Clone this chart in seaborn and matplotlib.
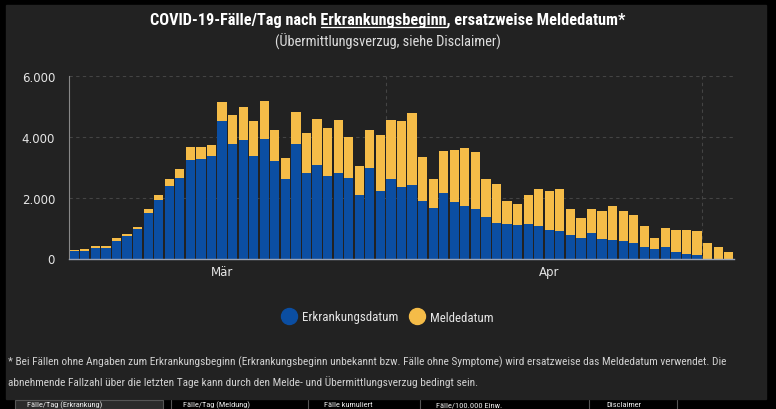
import pandas as pd
import matplotlib.pyplot as plt
from matplotlib import font_manager
from matplotlib.lines import Line2D
from matplotlib.patches import Rectangle
import seaborn as sns

# --- Daten ---
datum = pd.date_range("2020-02-16", "2020-04-18", freq="D")

erkrankungsdatum = [
    241, 241, 340, 340, 570, 734, 965, 1490, 1918, 2380, 2647, 3245, 3280, 3385,
    4535, 3780, 3905, 3385, 3945, 3222, 2627, 3785, 2825, 3090, 2730, 2825, 2660,
    2097, 2990, 2230, 2627, 2362, 2428, 1898, 1667, 2163, 1865, 1733, 1633, 1368,
    1175, 1142, 1109, 1142, 1076, 944, 911, 778, 679, 844, 646, 613, 580, 513,
    381, 315, 381, 215, 155, 127, 0, 0, 0,
]
meldedatum = [
    33, 66, 70, 70, 103, 71, 75, 130, 172, 228, 295, 425, 400, 360,
    635, 960, 1090, 1135, 1235, 1003, 668, 1040, 1297, 1495, 1555, 1720, 1330,
    963, 1230, 1825, 1923, 2156, 2350, 1429, 938, 1362, 1699, 1892, 1865, 1237,
    1285, 756, 690, 955, 1219, 1285, 1384, 855, 656, 789, 921, 1120, 987, 922,
    695, 358, 629, 729, 789, 778, 519, 387, 221,
]

monate = ["2020-03-01", "2020-04-01"]
monats_labels = ["Mär", "Apr"]
raster_daten = ["2020-03-17", "2020-04-16"]
y_ticks = [0, 2000, 4000, 6000]
y_labels = ["0", "2.000", "4.000", "6.000"]

titel = "COVID-19-Fälle/Tag nach Erkrankungsbeginn, ersatzweise Meldedatum*"
titel_vor = "COVID-19-Fälle/Tag nach "
titel_unterstrichen = "Erkrankungsbeginn"
untertitel = "(Übermittlungsverzug, siehe Disclaimer)"
fussnote = [
    "* Bei Fällen ohne Angaben zum Erkrankungsbeginn (Erkrankungsbeginn unbekannt bzw. "
    "Fälle ohne Symptome) wird ersatzweise das Meldedatum verwendet. Die",
    "abnehmende Fallzahl über die letzten Tage kann durch den Melde- und "
    "Übermittlungsverzug bedingt sein.",
]
tabs = ["Fälle/Tag (Erkrankung)", "Fälle/Tag (Meldung)", "Fälle kumuliert",
        "Fälle/100.000 Einw.", "Disclaimer"]

df = pd.DataFrame({
    "datum": datum.strftime("%Y-%m-%d"),
    "Erkrankungsdatum": erkrankungsdatum,
    "Meldedatum": meldedatum,
})
df["gesamt"] = df["Erkrankungsdatum"] + df["Meldedatum"]

# --- Stil ---
BLAU = "#0b4ea2"
GELB = "#f5bc48"
PANEL = "#222222"
W, H = 776, 410

sns.set_theme(style="dark")

# schmale Schrift suchen, sonst DejaVu Sans (condensed, falls vorhanden)
vorhanden = {f.name for f in font_manager.fontManager.ttflist}
schmal = None
for kandidat in ["Liberation Sans Narrow", "Roboto Condensed", "Open Sans Condensed",
                 "Noto Sans Condensed", "DejaVu Sans Condensed"]:
    if kandidat in vorhanden:
        schmal = kandidat
        break
if schmal is None:
    plt.rcParams["font.family"] = ["DejaVu Sans"]
    plt.rcParams["font.stretch"] = "condensed"
else:
    plt.rcParams["font.family"] = [schmal, "DejaVu Sans"]

fig = plt.figure(figsize=(W / 100, H / 100), dpi=100)
fig.patch.set_facecolor("black")
r = fig.canvas.get_renderer()


def fx(px):
    return px / W


def fy(py):
    return 1 - py / H


def breite(text, size, **kw):
    tmp = fig.text(0, 0, text, fontsize=size, **kw)
    w = tmp.get_window_extent(r).width
    tmp.remove()
    return w


def passend(text, ziel_px, **kw):
    return 10 * ziel_px / breite(text, 10, **kw)


# dunkles Panel
fig.add_artist(Rectangle((fx(6), fy(400)), fx(760), (400 - 6) / H,
                         transform=fig.transFigure, color=PANEL, zorder=0))

ax = fig.add_axes([fx(69), fy(259.5), fx(734 - 69), (259.5 - 77.3) / H])
ax.set_facecolor(PANEL)

# gestapelte Balken: gesamt (gelb) dahinter, Erkrankungsdatum (blau) davor
sns.barplot(data=df, x="datum", y="gesamt", color=GELB, saturation=1,
            width=0.87, errorbar=None, linewidth=0, ax=ax, zorder=3)
sns.barplot(data=df, x="datum", y="Erkrankungsdatum", color=BLAU, saturation=1,
            width=0.87, errorbar=None, linewidth=0, ax=ax, zorder=4)

ax.set_ylim(0, 6000)
ax.set_xlim(-0.5, len(df) - 0.5)
ax.set_xlabel("")
ax.set_ylabel("")

kat = list(df["datum"])
ax.set_xticks([kat.index(m) for m in monate])
ax.set_xticklabels(monats_labels, color="#e6e6e6", fontsize=8.5,
                   family="DejaVu Sans", stretch="normal")
ax.set_xticks([kat.index(rd) - 0.5 for rd in raster_daten], minor=True)
ax.tick_params(axis="x", which="major", length=0, pad=5)
ax.tick_params(axis="x", which="minor", length=4, color="#777777", width=0.8)
ax.xaxis.grid(True, which="minor", color="#444444", linestyle=(0, (3, 3)),
              linewidth=0.8)
ax.xaxis.grid(False, which="major")

ax.set_yticks(y_ticks)
ax.set_yticklabels(y_labels, color="#e6e6e6", fontsize=8.5,
                   family="DejaVu Sans", stretch="normal")
ax.tick_params(axis="y", length=6, color="#777777", width=0.8, pad=4)
ax.yaxis.grid(True, color="#444444", linestyle=(0, (3, 3)), linewidth=0.8)
ax.set_axisbelow(True)

for s in ["top", "right"]:
    ax.spines[s].set_visible(False)
ax.spines["left"].set_color("#888888")
ax.spines["left"].set_linewidth(0.8)
ax.spines["bottom"].set_color("#9aa3b5")
ax.spines["bottom"].set_linewidth(1.0)
ax.spines["bottom"].set_zorder(5)

# Titel mit unterstrichenem Wort
ts = passend(titel, 472, fontweight="bold")
t = fig.text(0.5, fy(20), titel, ha="center", va="center", color="white",
             fontsize=ts, fontweight="bold")
us = passend(untertitel, 224)
fig.text(0.5, fy(42), untertitel, ha="center", va="center", color="#dddddd",
         fontsize=us)

bb = t.get_window_extent(r)
w_vor = breite(titel_vor, ts, fontweight="bold")
w_u = breite(titel_unterstrichen, ts, fontweight="bold")
x0 = (bb.x0 + w_vor) / fig.bbox.width
x1 = (bb.x0 + w_vor + w_u) / fig.bbox.width
fig.add_artist(Line2D([x0, x1], [fy(28), fy(28)], transform=fig.transFigure,
                      color="white", linewidth=0.9))

# Legende
ls = passend("Erkrankungsdatum", 95)
handles = [
    Line2D([], [], marker="o", linestyle="", markersize=11.5,
           markerfacecolor=BLAU, markeredgecolor=BLAU, label="Erkrankungsdatum"),
    Line2D([], [], marker="o", linestyle="", markersize=11.5,
           markerfacecolor=GELB, markeredgecolor=GELB, label="Meldedatum"),
]
fig.legend(handles=handles, loc="center", bbox_to_anchor=(fx(388), fy(318)),
           ncol=2, frameon=False, fontsize=ls, labelcolor="#e6e6e6",
           handletextpad=0.5, columnspacing=1.0, handlelength=1.0)

# Fußnote
fs = passend(fussnote[0], 720)
for i, zeile in enumerate(fussnote):
    fig.text(fx(8), fy(362 + 20 * i), zeile, ha="left", va="center",
             color="#d0d0d0", fontsize=fs)

# Reiter unten
fig.add_artist(Rectangle((fx(15), 0), fx(148), fy(401), transform=fig.transFigure,
                         facecolor="#2b2b2b", edgecolor="#555555", linewidth=0.8,
                         zorder=1))
for xs in [171, 308, 420, 589, 677]:
    fig.add_artist(Line2D([fx(xs), fx(xs)], [0, fy(401)], transform=fig.transFigure,
                          color="#555555", linewidth=0.8))
for xs, name in zip([27, 183, 324, 436, 606], tabs):
    fig.text(fx(xs), fy(405.5), name, ha="left", va="center", color="#eeeeee",
             fontsize=6)

fig.savefig("out.png", dpi=100, facecolor=fig.get_facecolor())
